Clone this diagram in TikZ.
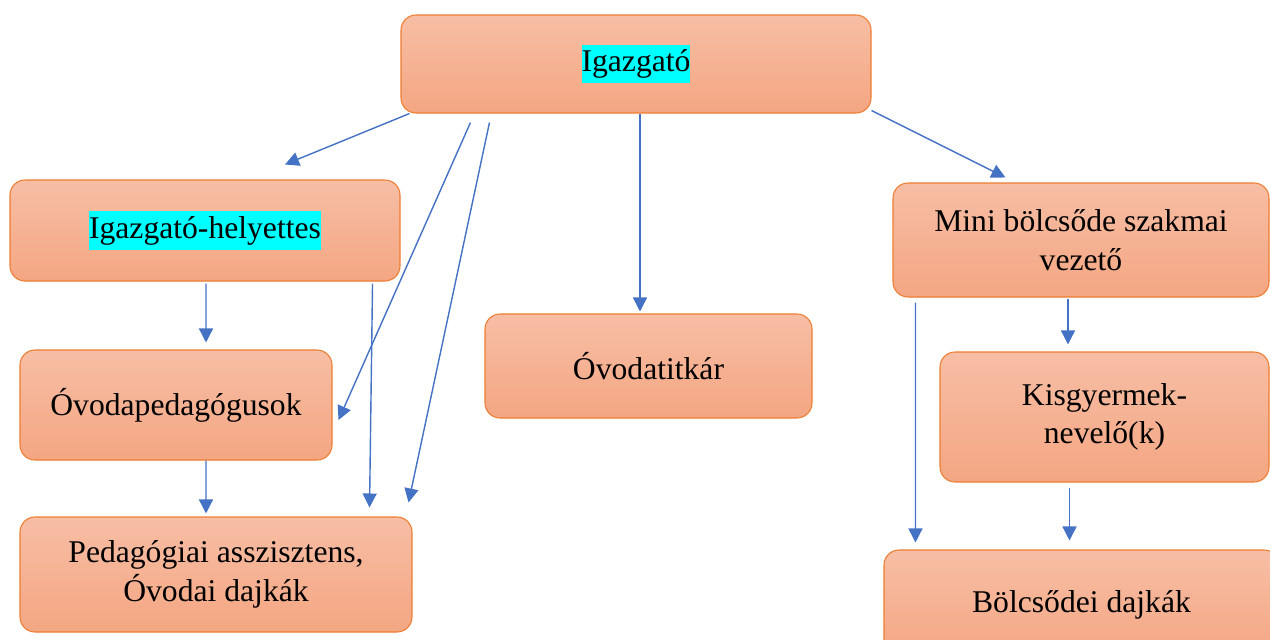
\documentclass[tikz,border=0pt]{standalone}
\usepackage{fontspec}
\setmainfont{Liberation Serif}
\usetikzlibrary{arrows.meta}
\definecolor{boxtop}{HTML}{F7BEA5}
\definecolor{boxbot}{HTML}{F4A682}
\definecolor{boxline}{HTML}{ED7D31}
\definecolor{linkblue}{HTML}{4472C4}
\definecolor{hicyan}{HTML}{00FFFF}
\newcommand{\hilite}[1]{{\setlength{\fboxsep}{0pt}\colorbox{hicyan}{\strut #1}}}
\begin{document}
\begin{tikzpicture}[
    unit/.style={rectangle, draw=boxline, line width=0.6pt, rounded corners=0.3cm,
                 top color=boxtop, bottom color=boxbot, align=center,
                 font=\fontsize{18}{22}\selectfont},
    link/.style={-{Triangle[width=0.28cm,length=0.28cm]}, line width=0.8pt, linkblue},
]
  \useasboundingbox (0,0) rectangle (25.4,-12.78);
  \clip (0,0) rectangle (25.4,-12.78);

  % Top
  \node[unit, minimum width=9.4cm, minimum height=1.96cm] (dir) at (12.72, -1.28)
    {\hilite{Igazgató}};

  % Kindergarten side
  \node[unit, minimum width=7.8cm, minimum height=2.02cm] (dep) at (4.1, -4.61)
    {\hilite{Igazgató-helyettes}};
  \node[unit, minimum width=6.24cm, minimum height=2.2cm] (ped) at (3.52, -8.1)
    {Óvodapedagógusok};
  \node[unit, minimum width=7.84cm, minimum height=2.3cm] (asst) at (4.32, -11.49)
    {Pedagógiai asszisztens,\\Óvodai dajkák};

  % Secretary
  \node[unit, minimum width=6.54cm, minimum height=2.08cm] (titk) at (12.97, -7.32)
    {Óvodatitkár};

  % Nursery side
  \node[unit, minimum width=7.52cm, minimum height=2.28cm] (mini) at (21.62, -4.8)
    {Mini bölcsőde szakmai\\vezető};
  \node[unit, minimum width=6.58cm, minimum height=2.6cm] (kisgy) at (22.09, -8.34)
    {Kisgyermek-\\nevelő(k)};
  \node[unit, minimum width=7.9cm, minimum height=2.2cm] (bolcs) at (21.63, -12.1)
    {Bölcsődei dajkák};

  % Links from the top
  \draw[link] ([xshift=0.18cm]dir.south west) -- ([xshift=1.6cm,yshift=0.3cm]dep.north);
  \draw[link] ([xshift=1.4cm,yshift=-0.18cm]dir.south west) -- ([xshift=0.12cm,yshift=-0.3cm]ped.east);
  \draw[link] ([xshift=1.78cm,yshift=-0.18cm]dir.south west) -- ([xshift=-0.08cm,yshift=0.28cm]asst.north east);
  \draw[link] ([xshift=0.08cm]dir.south) -- ([xshift=-0.17cm,yshift=0.04cm]titk.north);
  \draw[link] ([yshift=0.06cm]dir.south east) -- ([xshift=2.26cm,yshift=0.1cm]mini.north west);

  % Kindergarten links
  \draw[link] ([xshift=0.02cm,yshift=-0.04cm]dep.south) -- ([xshift=0.6cm,yshift=0.14cm]ped.north);
  \draw[link] ([xshift=-0.56cm,yshift=-0.04cm]dep.south east) -- ([xshift=-0.86cm,yshift=0.18cm]asst.north east);
  \draw[link] ([xshift=0.6cm]ped.south) -- ([xshift=-0.2cm,yshift=0.06cm]asst.north);

  % Nursery links
  \draw[link] ([xshift=-0.26cm,yshift=-0.02cm]mini.south) -- ([xshift=-0.73cm,yshift=0.14cm]kisgy.north);
  \draw[link] ([xshift=0.46cm,yshift=-0.1cm]mini.south west) -- ([xshift=0.64cm,yshift=0.14cm]bolcs.north west);
  \draw[link] ([xshift=-0.7cm,yshift=-0.1cm]kisgy.south) -- ([xshift=-0.24cm,yshift=0.18cm]bolcs.north);

\end{tikzpicture}
\end{document}
